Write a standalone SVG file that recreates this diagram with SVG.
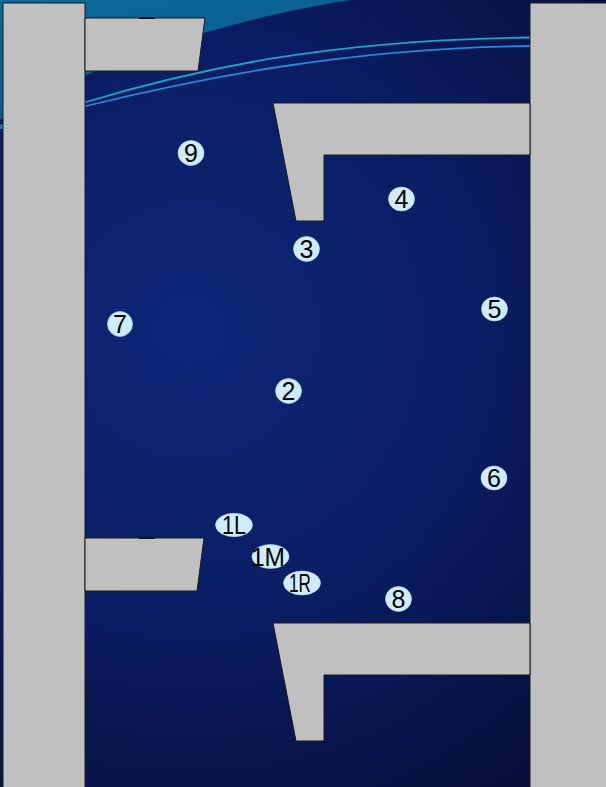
<svg xmlns="http://www.w3.org/2000/svg" width="606" height="787" viewBox="0 0 606 787">
  <defs>
    <radialGradient id="bg" cx="190" cy="330" r="560" gradientUnits="userSpaceOnUse">
      <stop offset="0" stop-color="#0d2777"/>
      <stop offset="0.5" stop-color="#0a1d64"/>
      <stop offset="1" stop-color="#060e3a"/>
    </radialGradient>
    <linearGradient id="teal" x1="0" y1="0" x2="0.6" y2="1">
      <stop offset="0" stop-color="#0a6a98"/>
      <stop offset="1" stop-color="#0a5792"/>
    </linearGradient>
    <style>
      .wall { fill: #c0c0c0; stroke: #1a1a1a; stroke-width: 1; stroke-linejoin: miter; }
      .tick { stroke: #111; stroke-width: 2; }
      .node ellipse { fill: #cdedfc; stroke: #b3dcf2; stroke-width: 0.6; }
      .node text { font-family: "Liberation Sans", Arial, sans-serif; font-size: 25px; fill: #000; text-anchor: middle; }
    </style>
  </defs>

  <!-- background -->
  <rect x="0" y="0" width="606" height="787" fill="url(#bg)"/>
  <path d="M0,0 H350 C 250,16 110,52 0,120 Z" fill="url(#teal)"/>
  <path d="M0,126 C 40,114 60,108 86,102 C 200,68 330,40 530,37.5" fill="none" stroke="#1fa3c9" stroke-width="1.8"/>
  <path d="M0,128 C 40,120 60,113 86,106 C 200,78 350,48 530,46" fill="none" stroke="#2a86d6" stroke-width="1.8"/>

  <!-- walls -->
  <rect class="wall" x="3" y="3" width="82" height="790"/>
  <rect class="wall" x="530" y="3" width="80" height="790"/>
  <polygon class="wall" points="85,18 205,18 198,71 85,71"/>
  <line class="tick" x1="139" y1="18" x2="155" y2="18"/>
  <polygon class="wall" points="85,538 204,538 197,591 85,591"/>
  <line class="tick" x1="139" y1="538" x2="155" y2="538"/>
  <polygon class="wall" points="273,103 530,103 530,155 324,155 324,221 296,221"/>
  <polygon class="wall" points="273,623 530,623 530,675 324,675 324,741 296,741"/>

  <!-- nodes -->
  <g id="node-9" class="node"><ellipse cx="191" cy="153" rx="13" ry="12.5"/><text x="191" y="162">9</text></g>
  <g id="node-4" class="node"><ellipse cx="401.5" cy="199" rx="13" ry="12"/><text x="401.5" y="208">4</text></g>
  <g id="node-3" class="node"><ellipse cx="306.5" cy="249" rx="13" ry="12.5"/><text x="306.5" y="258">3</text></g>
  <g id="node-5" class="node"><ellipse cx="494.5" cy="309" rx="13" ry="12"/><text x="494.5" y="318">5</text></g>
  <g id="node-7" class="node"><ellipse cx="120" cy="324" rx="12.5" ry="12.5"/><text x="120" y="333">7</text></g>
  <g id="node-2" class="node"><ellipse cx="288.5" cy="391" rx="13" ry="12.5"/><text x="288.5" y="400">2</text></g>
  <g id="node-6" class="node"><ellipse cx="494" cy="478" rx="13" ry="12"/><text x="494" y="487">6</text></g>
  <g id="node-1L" class="node"><ellipse cx="234" cy="525" rx="18.5" ry="11.7"/><text x="234" y="534" textLength="24" lengthAdjust="spacingAndGlyphs">1L</text></g>
  <g id="node-1M" class="node"><ellipse cx="270.5" cy="556.5" rx="18.5" ry="12"/><text x="268" y="565.5" textLength="34" lengthAdjust="spacingAndGlyphs">1M</text></g>
  <g id="node-1R" class="node"><ellipse cx="302" cy="583" rx="18.5" ry="12"/><text x="300" y="592" textLength="22" lengthAdjust="spacingAndGlyphs">1R</text></g>
  <g id="node-8" class="node"><ellipse cx="398.5" cy="599" rx="13" ry="12.5"/><text x="398.5" y="608">8</text></g>
</svg>
